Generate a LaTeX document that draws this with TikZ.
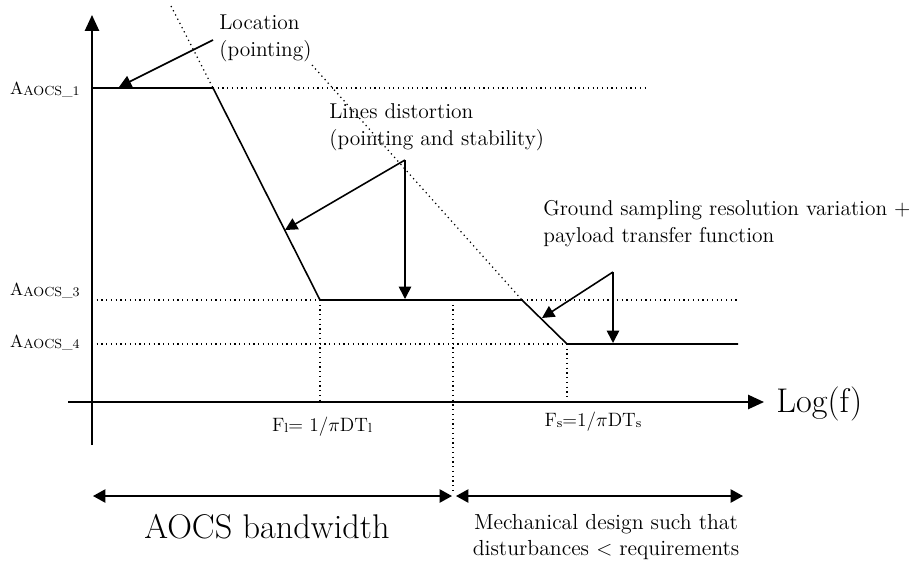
\documentclass[tikz,border=0pt]{standalone}
\usepackage{tikz}
\usetikzlibrary{arrows.meta}
\newcommand{\lowsub}[1]{\raisebox{-0.6pt}{\fontsize{7.5}{8}\selectfont #1}}
\tikzset{
    axis/.style={line width=1.1pt},
    level/.style={line width=0.9pt},
    guide/.style={dotted, line width=0.7pt},
    pointer/.style={line width=0.9pt, -{Triangle[length=7pt,width=7pt]}},
    span/.style={line width=0.9pt, {Triangle[length=7pt,width=7.5pt]}-{Triangle[length=7pt,width=7.5pt]}},
    note/.style={font=\fontsize{12.2}{15.3}\selectfont, inner sep=0pt, align=left, anchor=north west},
    big/.style={font=\fontsize{19.5}{21}\selectfont, inner sep=0pt},
    freq/.style={font=\fontsize{11}{12}\selectfont, inner sep=0pt}
}

\begin{document}
\begin{tikzpicture}[x=0.02cm, y=-0.02cm]
        \useasboundingbox (0,0) rectangle (922,562);

        % corners of the curve
        \coordinate (a1) at (92,88);
        \coordinate (k1) at (213,88);
        \coordinate (e1) at (645,88);
        \coordinate (a3) at (92,300);
        \coordinate (k2) at (320,300);
        \coordinate (k3) at (522,300);
        \coordinate (e3) at (738,300);
        \coordinate (a4) at (92,344);
        \coordinate (k4) at (567,344);
        \coordinate (e4) at (738,344);

        % axes
        \draw[axis, -{Triangle[length=9pt,width=8pt]}] (92,445) coordinate (ybot) -- (92,15) coordinate (ytop);
        \draw[axis, -{Triangle[length=9pt,width=8pt]}] (68,402) coordinate (xleft) -- (764,402) coordinate (xright);

        % guides
        \draw[guide] (k1) -- (e1);
        \draw[guide] (a3) -- (k2);
        \draw[guide] (k3) -- (e3);
        \draw[guide] (a4) -- (k4);
        \draw[guide] (171,6) coordinate (d1) -- (k1);
        \draw[guide] (312,65) coordinate (d2) -- (k3);
        \draw[guide] (k2) -- (320,402) coordinate (fl0);
        \draw[guide] (k4) -- (567,402) coordinate (fs0);
        \draw[guide] (453,300) coordinate (bw0) -- (453,492) coordinate (bw1);

        % curve
        \draw[level] (a1) -- (k1) -- (k2) -- (k3) -- (k4) -- (e4);

        % level labels
        \node[anchor=east, inner sep=0pt] (la1) at (80,90) {A\lowsub{AOCS\_1}};
        \node[anchor=east, inner sep=0pt] (la3) at (80,291) {A\lowsub{AOCS\_3}};
        \node[anchor=east, inner sep=0pt] (la4) at (80,343) {A\lowsub{AOCS\_4}};

        % annotations
        \node[note] (loc) at (219,15) {Location\\(pointing)};
        \node[note] (dist) at (329,103) {Lines distortion\\(pointing and stability)};
        \node[note] (gsr) at (543,200) {Ground sampling resolution variation +\\payload transfer function};

        \coordinate (p1) at (213,40);
        \coordinate (p2) at (405,160);
        \coordinate (p3) at (613,272);
        \draw[pointer] (p1) -- (119,87);
        \draw[pointer] (p2) -- (285,230);
        \draw[pointer] (p2) -- (405,299);
        \draw[pointer] (p3) -- (542,318);
        \draw[pointer] (p3) -- (613,343);

        % frequencies
        \node[freq] (fl) at (322,427) {F\lowsub{l}= 1/$\pi$DT\lowsub{l}};
        \node[freq] (fs) at (593,422) {F\lowsub{s}=1/$\pi$DT\lowsub{s}};
        \node[big, anchor=west] (logf) at (776,404) {Log(f)};

        % bandwidth
        \coordinate (b0) at (93,496);
        \coordinate (b1) at (452,496);
        \coordinate (b2) at (456,496);
        \coordinate (b3) at (743,496);
        \draw[span] (b0) -- (b1);
        \draw[span] (b2) -- (b3);
        \node[big] (aocsbw) at (267,527) {AOCS bandwidth};
        \node[note, anchor=center, align=center, font=\fontsize{12.4}{15}\selectfont] (mech) at (606,537) {Mechanical design such that\\disturbances $<$ requirements};
    \end{tikzpicture}
\end{document}
